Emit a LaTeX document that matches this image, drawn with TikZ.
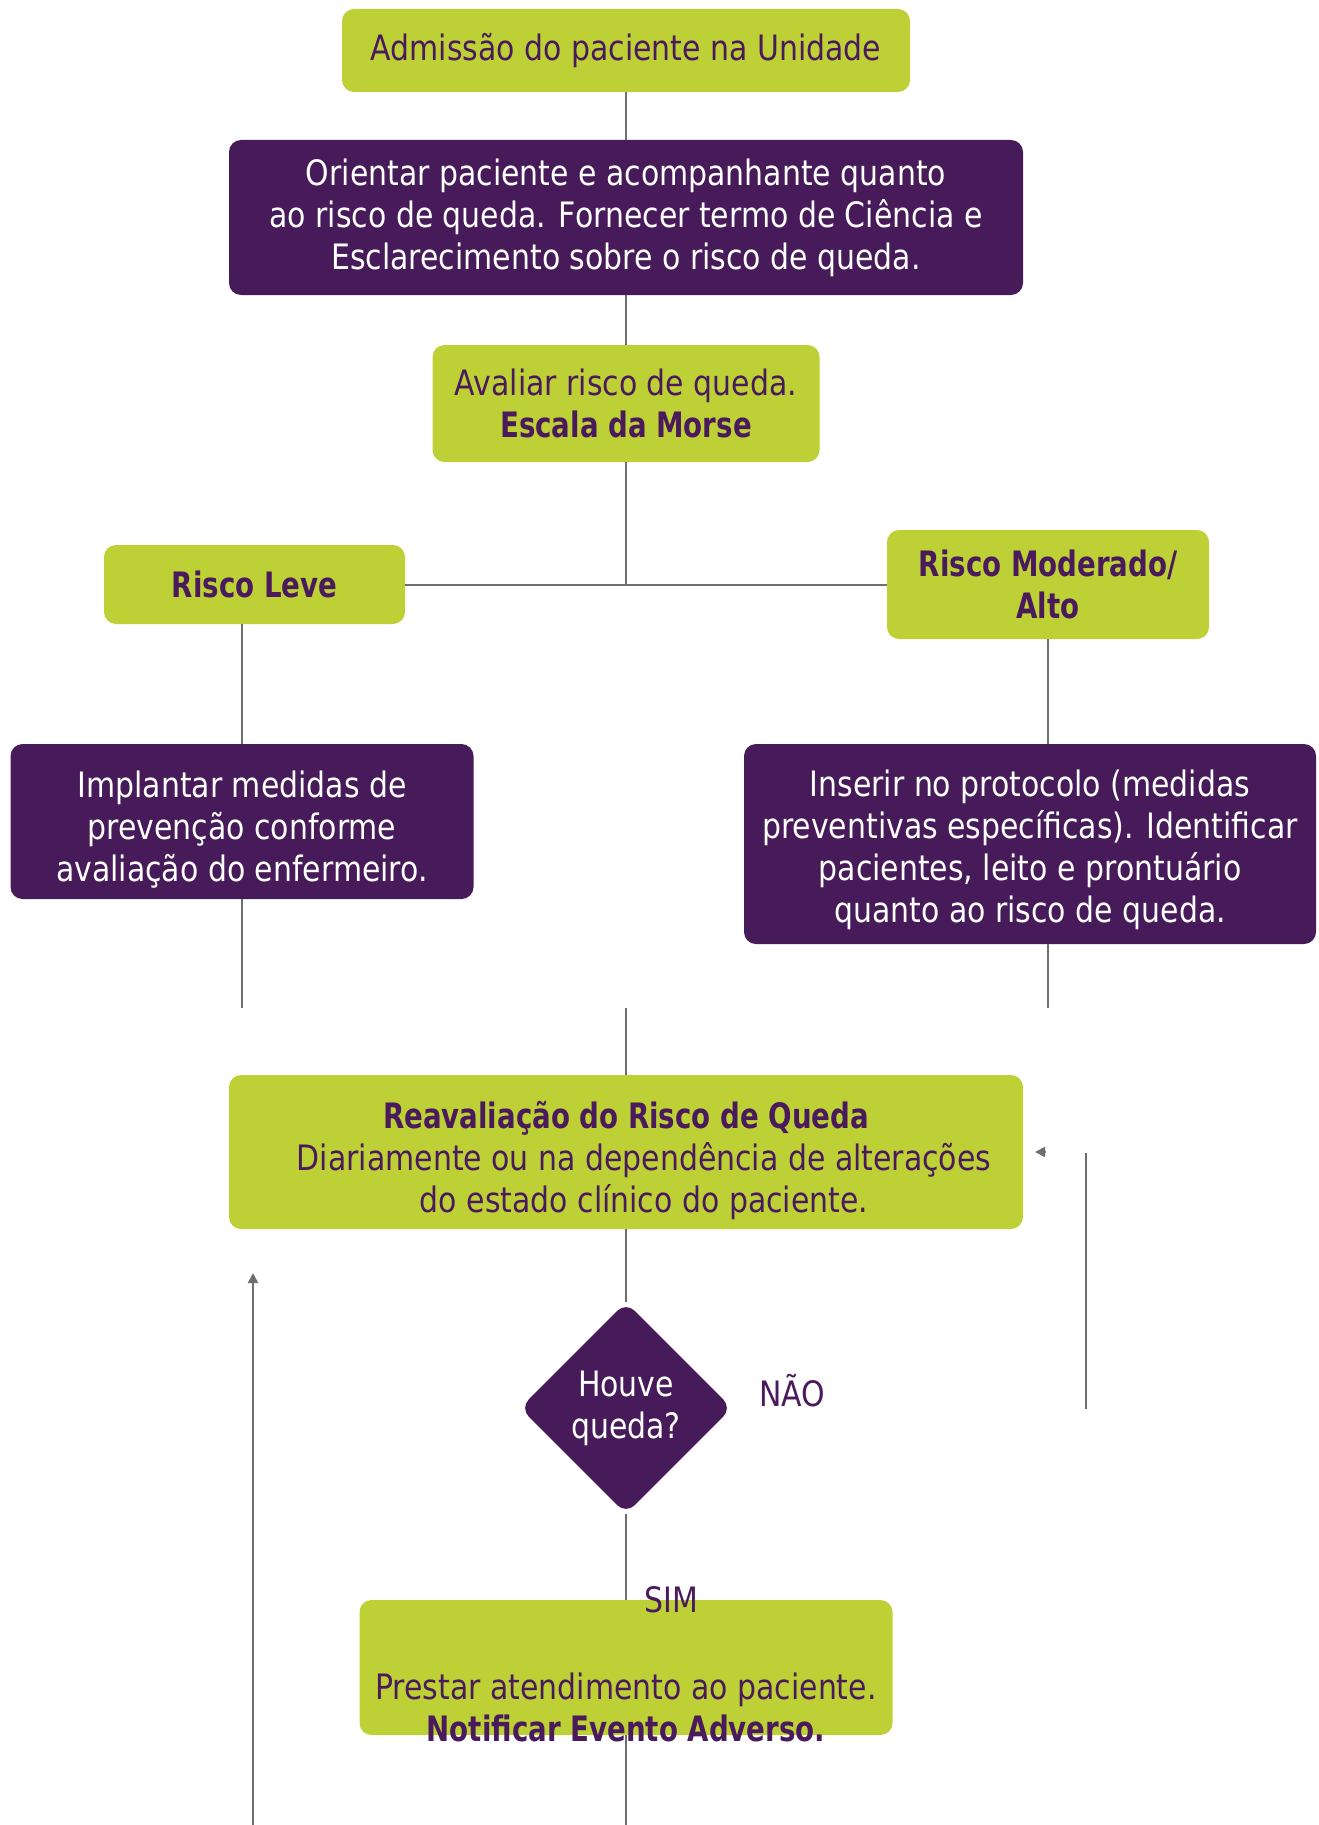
\documentclass[tikz,border=0pt]{standalone}
\usepackage{fontspec}
\setmainfont{DejaVu Sans}[FakeStretch=0.855, BoldFeatures={FakeStretch=0.79}]
\usetikzlibrary{shapes.geometric,arrows.meta}
\definecolor{limegreen}{HTML}{BDD136}
\definecolor{boxpurple}{HTML}{471A59}
\definecolor{txtpurple}{HTML}{4A1A5C}
\definecolor{linegray}{HTML}{6D6E70}
\newcommand{\topgap}[1]{\rule{0pt}{#1}}
\tikzset{
  box/.style={rectangle, rounded corners=6pt, inner sep=0pt, align=center,
    font=\fontsize{17.5pt}{21pt}\selectfont},
  greenbox/.style={box, fill=limegreen, text=txtpurple},
  purplebox/.style={box, fill=boxpurple, text=white},
  decision/.style={diamond, aspect=1, rounded corners=6pt, inner sep=0pt, fill=boxpurple,
    text=white, align=center, font=\fontsize{17.5pt}{21pt}\selectfont},
  answer/.style={text=txtpurple, inner sep=0pt, font=\fontsize{17.5pt}{21pt}\selectfont},
  conn/.style={draw=linegray, line width=1pt},
  tip/.style={-{Triangle[length=5pt,width=5pt]}}
}
\begin{document}
\begin{tikzpicture}[x=0.5pt,y=-0.5pt]
      \useasboundingbox (0,0) rectangle (1318,1825);
      \node[greenbox, minimum width=284pt, minimum height=41.5pt] (adm) at (626,50.5) {Admissão do paciente na Unidade};
      \node[purplebox, minimum width=397pt, minimum height=77.5pt] (ori) at (626,217.5) {Orientar paciente e acompanhante quanto\\ao risco de queda. Fornecer termo de Ciência e\\Esclarecimento sobre o risco de queda.};
      \node[greenbox, minimum width=193.5pt, minimum height=58.5pt] (aval) at (626,403.5) {Avaliar risco de queda.\\\textbf{Escala da Morse}};
      \node[greenbox, minimum width=150.5pt, minimum height=39.5pt] (leve) at (254.5,584.5) {\textbf{Risco Leve}};
      \node[greenbox, minimum width=161pt, minimum height=54.5pt] (mod) at (1048,584.5) {\textbf{Risco Moderado/}\\\textbf{Alto}};
      \node[purplebox, minimum width=231.5pt, minimum height=77.5pt] (impl) at (242,821.5) {\topgap{21pt}Implantar medidas de\\prevenção conforme\\avaliação do enfermeiro.};
      \node[purplebox, minimum width=286pt, minimum height=100pt] (ins) at (1030,844) {\topgap{19pt}Inserir no protocolo (medidas\\preventivas específicas). Identificar\\pacientes, leito e prontuário\\quanto ao risco de queda.};
      \node[greenbox, minimum width=397pt, minimum height=77pt] (reav) at (626,1152) {\topgap{22.5pt}\textbf{Reavaliação do Risco de Queda}\\\hspace*{18pt}Diariamente ou na dependência de alterações\\\hspace*{18pt}do estado clínico do paciente.};
      \node[decision, minimum width=106pt, minimum height=106pt] (dia) at (626,1408) {Houve\\queda?};
      \node[greenbox, minimum width=266.5pt, minimum height=67.5pt] (prest) at (626,1667.5) {};
      \node[answer, align=center] (prestxt) at (626,1707) {Prestar atendimento ao paciente.\\\textbf{Notificar Evento Adverso.}};
      \node[answer] (nao) at (792,1391) {NÃO};
      \node[answer] (sim) at (671,1600) {SIM};
      \coordinate (implend) at (242,1008);
      \coordinate (insend) at (1048,1008);
      \coordinate (reavin) at (626,1008);
      \coordinate (prestend) at (626,1825);
      \coordinate (loopbot) at (253,1825);
      \coordinate (looptop) at (253,1273);
      \coordinate (naobot) at (1086,1409);
      \coordinate (naotop) at (1086,1153);
      \coordinate (naotip) at (1035,1152);
      \draw[conn] (adm.south) -- (ori.north);
      \draw[conn] (ori.south) -- (aval.north);
      \draw[conn] (aval.south) -- (aval.south |- leve.east);
      \draw[conn] (leve.east) -- (leve.east -| mod.west);
      \draw[conn] (impl.north |- leve.south) -- (impl.north);
      \draw[conn] (impl.south) -- (implend);
      \draw[conn] (mod.south) -- (mod.south |- ins.north);
      \draw[conn] (ins.south -| insend) -- (insend);
      \draw[conn] (reavin) -- (reav.north);
      \draw[conn] (reav.south) -- (dia.north);
      \draw[conn] (dia.south) -- (prest.north);
      \draw[conn] (prest.south) -- (prestend);
      \draw[conn, tip] (loopbot) -- (looptop);
      \draw[conn] (naobot) -- (naotop);
      \draw[conn, tip] (naotip) ++(10,0) -- (naotip);
    \end{tikzpicture}
\end{document}
